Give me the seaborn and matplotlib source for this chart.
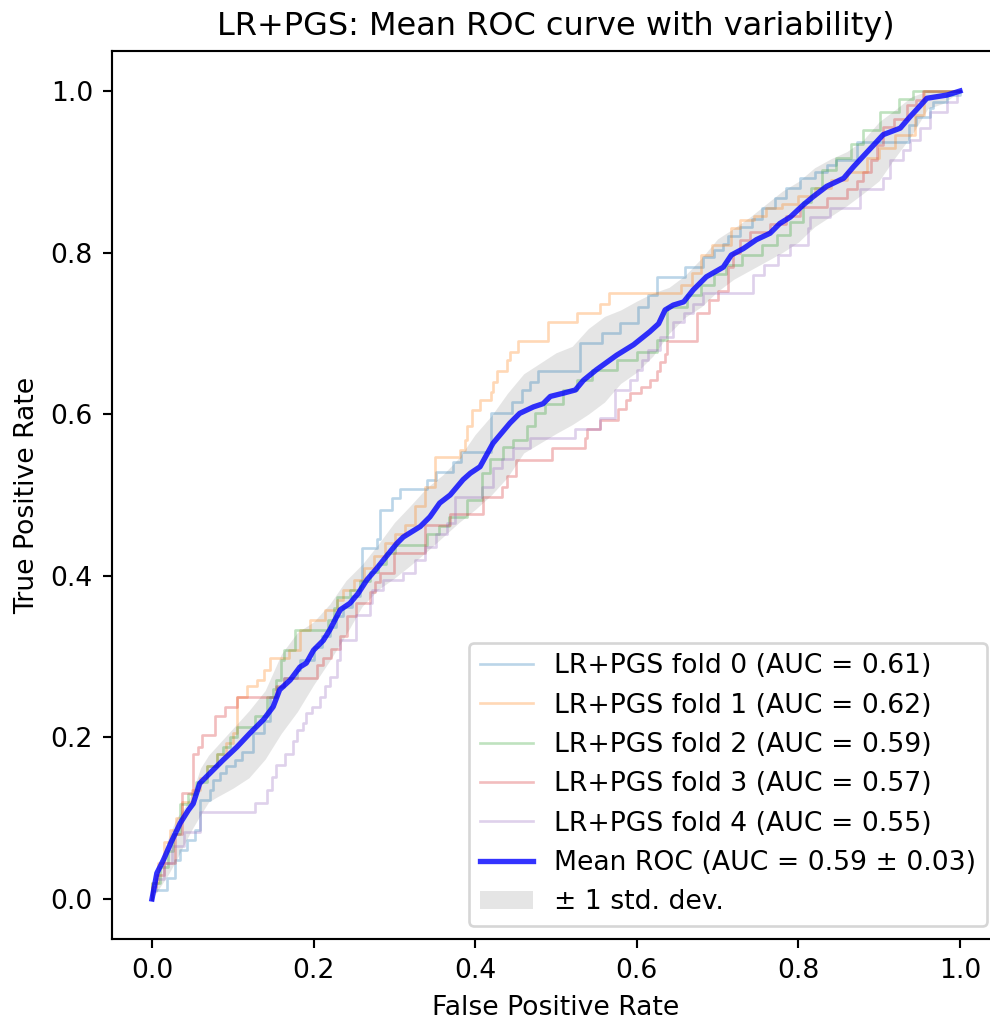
import matplotlib
matplotlib.use("Agg")
import matplotlib.pyplot as plt
import seaborn as sns

# ---------------- data ----------------
fold_labels = ["LR+PGS fold 0 (AUC = 0.61)", "LR+PGS fold 1 (AUC = 0.62)",
               "LR+PGS fold 2 (AUC = 0.59)", "LR+PGS fold 3 (AUC = 0.57)",
               "LR+PGS fold 4 (AUC = 0.55)"]
mean_label = "Mean ROC (AUC = 0.59 ± 0.03)"
band_label = "± 1 std. dev."

fold0_fpr = [0, 0, 0.018, 0.028, 0.035, 0.043, 0.053, 0.059, 0.072, 0.076, 0.084, 0.092, 0.103, 0.112, 0.125, 0.138, 0.146, 0.155, 0.163, 0.179, 0.183, 0.2, 0.21, 0.22, 0.228, 0.237, 0.247, 0.257, 0.26, 0.278, 0.282, 0.297, 0.307, 0.34, 0.352, 0.373, 0.383, 0.42, 0.445, 0.458, 0.468, 0.478, 0.53, 0.557, 0.579, 0.602, 0.614, 0.625, 0.66, 0.682, 0.695, 0.707, 0.713, 0.728, 0.742, 0.755, 0.771, 0.785, 0.802, 0.82, 0.835, 0.847, 0.872, 0.937, 0.946, 0.963, 0.967, 0.984, 1.0]
fold0_tpr = [0, 0.011, 0.026, 0.048, 0.061, 0.073, 0.085, 0.122, 0.135, 0.147, 0.156, 0.164, 0.172, 0.182, 0.205, 0.22, 0.25, 0.262, 0.273, 0.283, 0.296, 0.312, 0.325, 0.337, 0.35, 0.362, 0.375, 0.387, 0.434, 0.446, 0.481, 0.496, 0.508, 0.519, 0.529, 0.541, 0.553, 0.601, 0.615, 0.63, 0.64, 0.653, 0.688, 0.7, 0.713, 0.733, 0.748, 0.77, 0.782, 0.795, 0.803, 0.811, 0.82, 0.832, 0.842, 0.855, 0.867, 0.88, 0.892, 0.9, 0.908, 0.915, 0.937, 0.958, 0.968, 0.979, 0.987, 0.995, 1.0]

fold1_fpr = [0, 0, 0.008, 0.015, 0.022, 0.03, 0.037, 0.05, 0.06, 0.068, 0.08, 0.092, 0.1, 0.105, 0.117, 0.13, 0.138, 0.146, 0.169, 0.183, 0.195, 0.214, 0.229, 0.237, 0.25, 0.262, 0.275, 0.288, 0.301, 0.313, 0.326, 0.338, 0.35, 0.381, 0.387, 0.39, 0.396, 0.406, 0.42, 0.422, 0.427, 0.439, 0.443, 0.453, 0.49, 0.526, 0.554, 0.565, 0.655, 0.668, 0.68, 0.693, 0.717, 0.728, 0.745, 0.76, 0.78, 0.8, 0.82, 0.84, 0.86, 0.885, 0.9, 0.92, 0.944, 0.956, 1.0]
fold1_tpr = [0, 0.02, 0.045, 0.07, 0.085, 0.1, 0.12, 0.135, 0.15, 0.165, 0.18, 0.193, 0.205, 0.25, 0.263, 0.271, 0.283, 0.298, 0.308, 0.333, 0.345, 0.358, 0.37, 0.382, 0.395, 0.41, 0.425, 0.44, 0.452, 0.463, 0.486, 0.51, 0.547, 0.556, 0.568, 0.585, 0.605, 0.618, 0.628, 0.64, 0.653, 0.667, 0.677, 0.69, 0.714, 0.725, 0.737, 0.75, 0.76, 0.775, 0.797, 0.809, 0.83, 0.84, 0.845, 0.855, 0.86, 0.87, 0.88, 0.89, 0.9, 0.917, 0.93, 0.945, 0.97, 1.0, 1.0]

fold2_fpr = [0, 0, 0.01, 0.02, 0.026, 0.035, 0.045, 0.055, 0.068, 0.08, 0.088, 0.097, 0.105, 0.127, 0.142, 0.15, 0.154, 0.16, 0.163, 0.177, 0.218, 0.225, 0.229, 0.245, 0.257, 0.27, 0.28, 0.29, 0.301, 0.34, 0.355, 0.367, 0.39, 0.408, 0.418, 0.435, 0.447, 0.464, 0.474, 0.486, 0.509, 0.526, 0.544, 0.575, 0.6, 0.625, 0.637, 0.662, 0.68, 0.695, 0.711, 0.73, 0.755, 0.773, 0.79, 0.806, 0.815, 0.829, 0.847, 0.865, 0.88, 0.901, 0.925, 0.942, 1.0]
fold2_tpr = [0, 0.02, 0.04, 0.06, 0.081, 0.118, 0.13, 0.145, 0.164, 0.18, 0.188, 0.2, 0.213, 0.226, 0.25, 0.26, 0.271, 0.296, 0.308, 0.333, 0.345, 0.36, 0.374, 0.382, 0.393, 0.405, 0.415, 0.428, 0.438, 0.452, 0.462, 0.473, 0.494, 0.527, 0.545, 0.56, 0.568, 0.585, 0.601, 0.613, 0.63, 0.642, 0.655, 0.667, 0.677, 0.692, 0.733, 0.748, 0.76, 0.774, 0.785, 0.797, 0.809, 0.822, 0.838, 0.863, 0.88, 0.902, 0.917, 0.935, 0.952, 0.974, 0.99, 1.0, 1.0]

fold3_fpr = [0, 0, 0.005, 0.015, 0.028, 0.037, 0.051, 0.057, 0.062, 0.078, 0.09, 0.105, 0.154, 0.163, 0.204, 0.212, 0.222, 0.233, 0.241, 0.253, 0.27, 0.276, 0.282, 0.299, 0.338, 0.369, 0.41, 0.433, 0.439, 0.451, 0.495, 0.536, 0.538, 0.554, 0.577, 0.587, 0.592, 0.605, 0.616, 0.625, 0.629, 0.635, 0.637, 0.674, 0.689, 0.701, 0.713, 0.719, 0.728, 0.74, 0.765, 0.785, 0.802, 0.836, 0.86, 0.872, 0.88, 0.89, 0.897, 0.905, 0.918, 0.934, 0.946, 0.954, 1.0]
fold3_tpr = [0, 0.015, 0.03, 0.045, 0.08, 0.131, 0.18, 0.188, 0.203, 0.226, 0.238, 0.25, 0.263, 0.273, 0.29, 0.298, 0.31, 0.325, 0.35, 0.366, 0.38, 0.392, 0.403, 0.428, 0.463, 0.477, 0.498, 0.51, 0.523, 0.543, 0.558, 0.57, 0.582, 0.593, 0.607, 0.618, 0.626, 0.634, 0.642, 0.653, 0.665, 0.675, 0.69, 0.725, 0.741, 0.752, 0.782, 0.8, 0.816, 0.826, 0.835, 0.845, 0.857, 0.867, 0.879, 0.888, 0.9, 0.915, 0.933, 0.956, 0.965, 0.983, 0.989, 1.0, 1.0]

fold4_fpr = [0, 0, 0.005, 0.015, 0.025, 0.04, 0.059, 0.127, 0.142, 0.148, 0.154, 0.165, 0.175, 0.179, 0.187, 0.191, 0.198, 0.208, 0.214, 0.22, 0.229, 0.233, 0.253, 0.27, 0.272, 0.286, 0.311, 0.326, 0.338, 0.352, 0.365, 0.375, 0.408, 0.422, 0.433, 0.447, 0.468, 0.523, 0.554, 0.573, 0.592, 0.6, 0.606, 0.614, 0.629, 0.645, 0.658, 0.67, 0.682, 0.744, 0.757, 0.775, 0.79, 0.812, 0.814, 0.839, 0.876, 0.905, 0.913, 0.93, 0.938, 0.95, 0.963, 0.984, 0.996, 1.0]
fold4_tpr = [0, 0.01, 0.025, 0.045, 0.065, 0.083, 0.108, 0.119, 0.135, 0.151, 0.166, 0.18, 0.195, 0.209, 0.218, 0.23, 0.238, 0.25, 0.263, 0.275, 0.296, 0.32, 0.352, 0.366, 0.382, 0.395, 0.403, 0.42, 0.436, 0.452, 0.465, 0.498, 0.51, 0.533, 0.545, 0.558, 0.57, 0.582, 0.595, 0.63, 0.642, 0.655, 0.667, 0.679, 0.696, 0.714, 0.725, 0.737, 0.75, 0.772, 0.785, 0.797, 0.809, 0.83, 0.844, 0.855, 0.879, 0.892, 0.915, 0.927, 0.939, 0.954, 0.974, 0.987, 1.0, 1.0]

mean_fpr = [0.0, 0.006, 0.014, 0.024, 0.035, 0.045, 0.051, 0.059, 0.072, 0.088, 0.105, 0.121, 0.138, 0.15, 0.158, 0.171, 0.183, 0.191, 0.2, 0.212, 0.22, 0.233, 0.245, 0.255, 0.266, 0.278, 0.29, 0.303, 0.311, 0.332, 0.344, 0.356, 0.369, 0.385, 0.394, 0.406, 0.422, 0.443, 0.455, 0.472, 0.484, 0.493, 0.509, 0.524, 0.534, 0.55, 0.575, 0.596, 0.616, 0.627, 0.635, 0.645, 0.658, 0.67, 0.686, 0.707, 0.717, 0.732, 0.748, 0.765, 0.777, 0.79, 0.806, 0.818, 0.835, 0.856, 0.868, 0.88, 0.893, 0.905, 0.926, 0.938, 0.95, 0.959, 0.984, 1.0]
mean_tpr = [0.0, 0.032, 0.048, 0.071, 0.094, 0.11, 0.118, 0.143, 0.156, 0.172, 0.188, 0.205, 0.222, 0.238, 0.259, 0.271, 0.287, 0.292, 0.308, 0.32, 0.333, 0.358, 0.366, 0.378, 0.395, 0.409, 0.424, 0.44, 0.448, 0.461, 0.473, 0.49, 0.5, 0.519, 0.527, 0.535, 0.564, 0.589, 0.601, 0.609, 0.613, 0.622, 0.626, 0.63, 0.642, 0.655, 0.673, 0.686, 0.702, 0.712, 0.729, 0.735, 0.739, 0.754, 0.77, 0.782, 0.797, 0.805, 0.816, 0.824, 0.836, 0.844, 0.859, 0.869, 0.882, 0.892, 0.906, 0.919, 0.933, 0.946, 0.954, 0.968, 0.981, 0.991, 0.995, 1.0]

band_fpr = [0, 0.01, 0.02, 0.03, 0.04, 0.05, 0.06, 0.07, 0.08, 0.1, 0.12, 0.14, 0.16, 0.18, 0.2, 0.22, 0.24, 0.26, 0.28, 0.3, 0.32, 0.34, 0.36, 0.38, 0.4, 0.42, 0.44, 0.46, 0.48, 0.5, 0.52, 0.54, 0.56, 0.58, 0.6, 0.62, 0.64, 0.66, 0.68, 0.7, 0.72, 0.74, 0.76, 0.78, 0.8, 0.82, 0.84, 0.86, 0.88, 0.9, 0.92, 0.94, 0.96, 0.98, 1.0]
band_upper = [0, 0.045, 0.075, 0.1, 0.113, 0.132, 0.162, 0.178, 0.189, 0.211, 0.233, 0.258, 0.303, 0.33, 0.343, 0.365, 0.394, 0.414, 0.439, 0.466, 0.487, 0.509, 0.525, 0.546, 0.575, 0.598, 0.626, 0.65, 0.663, 0.676, 0.684, 0.706, 0.721, 0.729, 0.74, 0.75, 0.757, 0.772, 0.793, 0.817, 0.83, 0.844, 0.86, 0.876, 0.888, 0.905, 0.916, 0.925, 0.939, 0.962, 0.977, 0.993, 1.0, 1.0, 1.0]
band_lower = [0, 0.015, 0.03, 0.048, 0.068, 0.087, 0.104, 0.12, 0.126, 0.137, 0.15, 0.173, 0.205, 0.232, 0.265, 0.295, 0.327, 0.362, 0.383, 0.397, 0.413, 0.43, 0.448, 0.466, 0.482, 0.5, 0.522, 0.552, 0.564, 0.576, 0.587, 0.6, 0.615, 0.638, 0.652, 0.672, 0.7, 0.72, 0.733, 0.752, 0.767, 0.778, 0.789, 0.8, 0.813, 0.832, 0.845, 0.858, 0.873, 0.889, 0.918, 0.945, 0.978, 0.985, 1.0]

folds_fpr = [fold0_fpr, fold1_fpr, fold2_fpr, fold3_fpr, fold4_fpr]
folds_tpr = [fold0_tpr, fold1_tpr, fold2_tpr, fold3_tpr, fold4_tpr]

# ---------------- figure ----------------
DPI = 192
fig = plt.figure(figsize=(990 / DPI, 1025 / DPI), dpi=DPI)
ax = fig.add_axes([111.6 / 990, (1025 - 939.4) / 1025, 888.8 / 990, 888.8 / 1025])

palette = sns.color_palette("tab10", 5)
for i in range(5):
    sns.lineplot(x=folds_fpr[i], y=folds_tpr[i], ax=ax, color=palette[i],
                 lw=1, alpha=0.3, estimator=None, sort=False,
                 drawstyle="steps-post", label=fold_labels[i])

sns.lineplot(x=mean_fpr, y=mean_tpr, ax=ax, color="b", lw=2, alpha=0.8,
             estimator=None, sort=False, label=mean_label)

ax.fill_between(band_fpr, band_lower, band_upper, color="grey", alpha=0.2,
                lw=0, label=band_label)

ax.set_xlim(-0.05, 1.05)
ax.set_ylim(-0.05, 1.05)
ax.set_xticks([0.0, 0.2, 0.4, 0.6, 0.8, 1.0])
ax.set_yticks([0.0, 0.2, 0.4, 0.6, 0.8, 1.0])
ax.set_xlabel("False Positive Rate")
ax.set_ylabel("True Positive Rate")
ax.set_title("LR+PGS: Mean ROC curve with variability)")
ax.legend(loc="lower right")

fig.savefig("out.png", dpi=DPI)
